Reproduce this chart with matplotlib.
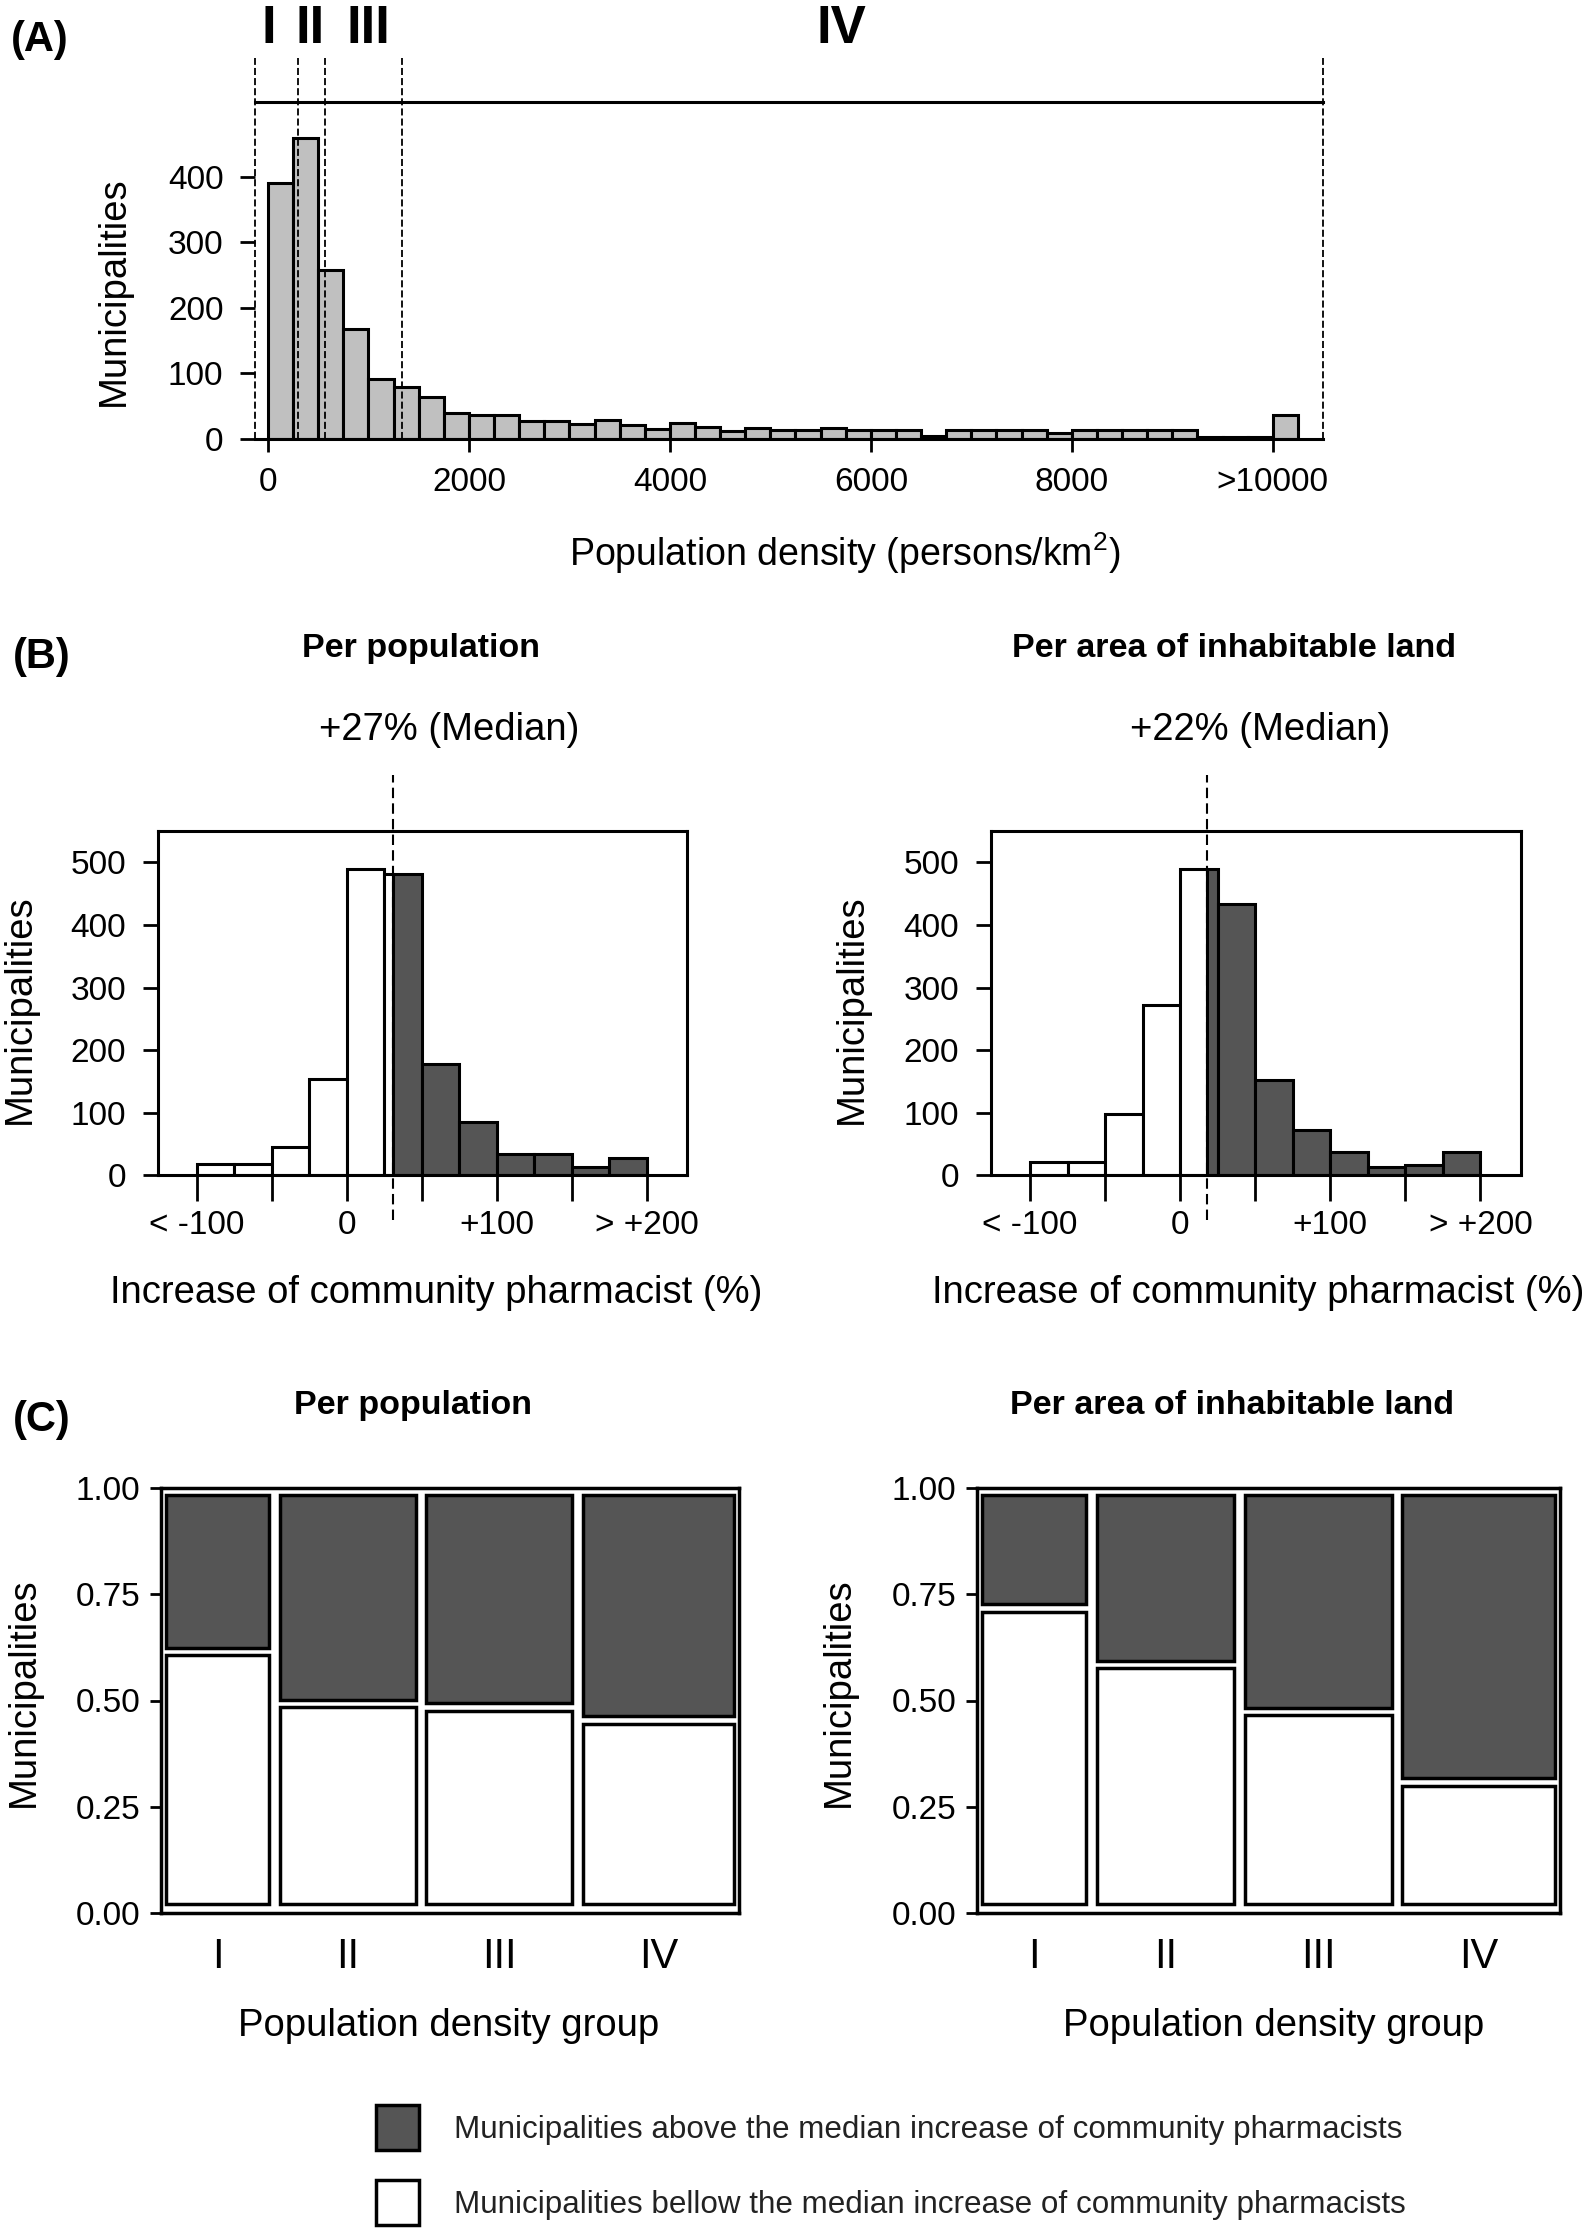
import numpy as np
import matplotlib.pyplot as plt
from matplotlib.patches import Rectangle

plt.rcParams['font.family'] = ['Liberation Sans', 'DejaVu Sans']
plt.rcParams['mathtext.fontset'] = 'custom'
plt.rcParams['mathtext.rm'] = 'Liberation Sans'
plt.rcParams['mathtext.it'] = 'Liberation Sans:italic'
plt.rcParams['mathtext.bf'] = 'Liberation Sans:bold'

W, H = 1593, 2228
GREY = '#c0c0c0'
DARK = '#555555'

# ---- (A) population density histogram ----
density_bin_left = list(range(0, 10000, 250)) + [10000]
density_counts = [390, 459, 258, 167, 92, 79, 64, 40, 36, 37,
                  28, 28, 23, 29, 22, 16, 24, 18, 12, 17,
                  14, 14, 17, 14, 14, 14, 4, 14, 14, 14,
                  14, 9, 14, 14, 14, 14, 14, 3, 3, 3,
                  36]
density_ticks = [0, 2000, 4000, 6000, 8000, 10000]
density_ticklabels = ['0', '2000', '4000', '6000', '8000', '>10000']
group_bounds = [-125, 300, 570, 1330, 10500]
group_names = ['I', 'II', 'III', 'IV']
group_name_x = [10, 420, 1000, 5710]

# ---- (B) increase of community pharmacists ----
incr_bin_left = [-100, -75, -50, -25, 0, 25, 50, 75, 100, 125, 150, 175]
incr_counts_pop = [18, 18, 46, 154, 489, 482, 178, 85, 34, 34, 13, 28]
incr_counts_land = [21, 21, 98, 272, 490, 434, 152, 73, 38, 13, 17, 38]
median_line_pop = 31
median_line_land = 18
median_label_pop = '+27% (Median)'
median_label_land = '+22% (Median)'
incr_ticks = [-100, -50, 0, 50, 100, 150, 200]
incr_ticklabels = ['< -100', '', '0', '', '+100', '', '> +200']

# ---- (C) share below / above the median, by density group ----
group_sizes = [334, 442, 473, 491]
below_share_pop = [0.619, 0.489, 0.481, 0.448]
below_share_land = [0.727, 0.587, 0.469, 0.294]


def px_axes(left, top, right, bottom):
    return fig.add_axes([left / W, 1 - bottom / H, (right - left) / W, (bottom - top) / H])


fig = plt.figure(figsize=(W / 100, H / 100), dpi=100)

# ================= (A) =================
ax = px_axes(255.4, 101.7, 1323, 439)
ax.bar(density_bin_left, density_counts, width=250, align='edge',
       color=GREY, edgecolor='black', linewidth=2.2)
ax.set_xlim(-125, 10500)
ax.set_ylim(0, 514)
for s in ['left', 'right']:
    ax.spines[s].set_visible(False)
for s in ['top', 'bottom']:
    ax.spines[s].set_linewidth(2.2)
ax.vlines(group_bounds, 0, 581, colors='black', linestyles=(0, (3.9, 1.7)),
          linewidth=1.3, clip_on=False)
for name, gx in zip(group_names, group_name_x):
    ax.text(gx, 604, name, ha='center', va='baseline', fontsize=38,
            fontweight='bold', clip_on=False)
ax.set_yticks([0, 100, 200, 300, 400])
ax.set_xticks(density_ticks)
ax.set_xticklabels(density_ticklabels)
ax.tick_params(axis='y', length=11, width=2, pad=12, labelsize=24)
ax.tick_params(axis='x', length=9, width=2, pad=11, labelsize=24)
ax.set_xlabel('Population density (persons/km$^{2}$)', fontsize=27)
ax.xaxis.set_label_coords(0.552, -0.338)
ax.xaxis.label.set_va('center')
ax.set_ylabel('Municipalities', fontsize=27.5)
ax.yaxis.set_label_coords(-0.1324, 0.439)
ax.yaxis.label.set_va('center')
fig.text(40 / W, 1 - 40 / H, '(A)', fontsize=30, fontweight='bold',
         ha='center', va='center')


# ================= (B) =================
def increase_hist(ax, counts, median_x, median_label, title, title_x, xlab_x):
    for left, h in zip(incr_bin_left, counts):
        right = left + 25
        if right <= median_x:
            ax.bar(left, h, width=25, align='edge', color='white',
                   edgecolor='black', linewidth=2.2)
        elif left >= median_x:
            ax.bar(left, h, width=25, align='edge', color=DARK,
                   edgecolor='black', linewidth=2.2)
        else:
            ax.bar(left, h, width=median_x - left, align='edge', color='white',
                   edgecolor='black', linewidth=2.2)
            ax.bar(median_x, h, width=right - median_x, align='edge', color=DARK,
                   edgecolor='black', linewidth=2.2)
    ax.set_xlim(-126, 227)
    ax.set_ylim(0, 551)
    for s in ax.spines.values():
        s.set_linewidth(2.2)
    ax.vlines(median_x, -71, 639, colors='black', linestyles=(0, (5, 2.5)),
              linewidth=1.5, clip_on=False, zorder=5)
    ax.text(median_x + 37 if median_x > 25 else median_x + 35, 711, median_label,
            ha='center', va='center', fontsize=27.5, clip_on=False)
    ax.set_yticks([0, 100, 200, 300, 400, 500])
    ax.set_xticks(incr_ticks)
    ax.set_xticklabels(incr_ticklabels)
    ax.tick_params(axis='y', length=11, width=2, pad=12, labelsize=24)
    ax.tick_params(axis='x', length=19, width=2, pad=6, labelsize=24)
    ax.set_xlabel('Increase of community pharmacist (%)', fontsize=27.5)
    ax.xaxis.set_label_coords(xlab_x, -0.341)
    ax.xaxis.label.set_va('center')
    ax.set_ylabel('Municipalities', fontsize=27.5)
    ax.yaxis.set_label_coords(-0.262, 0.482)
    ax.yaxis.label.set_va('center')
    ax.text(title_x, 1.529, title, transform=ax.transAxes, ha='center',
            va='center', fontsize=24.5, fontweight='bold')


axb1 = px_axes(158, 830.5, 687, 1175.3)
increase_hist(axb1, incr_counts_pop, median_line_pop, median_label_pop,
              'Per population', 0.497, 0.5255)
axb2 = px_axes(991, 830.5, 1521, 1175.3)
increase_hist(axb2, incr_counts_land, median_line_land, median_label_land,
              'Per area of inhabitable land', 0.4585, 0.504)
fig.text(42 / W, 1 - 657 / H, '(B)', fontsize=30, fontweight='bold',
         ha='center', va='center')


# ================= (C) =================
def mosaic(ax, sizes, below, title, title_x, xlab_x):
    pad_x, gap_x = 0.0087, 0.0183
    pad_top, pad_bot, gap_y = 0.0153, 0.021, 0.0176
    usable_x = 1 - 2 * pad_x - gap_x * (len(sizes) - 1)
    widths = usable_x * np.array(sizes) / np.sum(sizes)
    usable_y = 1 - pad_top - pad_bot - gap_y
    x = pad_x
    centers = []
    for w, p in zip(widths, below):
        hw = usable_y * p
        ax.add_patch(Rectangle((x, pad_bot), w, hw, facecolor='white',
                               edgecolor='black', linewidth=2.5))
        ax.add_patch(Rectangle((x, pad_bot + hw + gap_y), w, usable_y - hw,
                               facecolor=DARK, edgecolor='black', linewidth=2.5))
        centers.append(x + w / 2)
        x += w + gap_x
    ax.set_xlim(0, 1)
    ax.set_ylim(0, 1)
    for s in ax.spines.values():
        s.set_linewidth(2.5)
    ax.set_yticks([0, 0.25, 0.5, 0.75, 1.0])
    ax.set_yticklabels(['0.00', '0.25', '0.50', '0.75', '1.00'])
    ax.set_xticks(centers)
    ax.set_xticklabels(group_names)
    ax.tick_params(axis='y', length=8, width=2, pad=7, labelsize=24)
    ax.tick_params(axis='x', length=0, pad=17, labelsize=30)
    ax.set_xlabel('Population density group', fontsize=27.5)
    ax.xaxis.set_label_coords(xlab_x, -0.265)
    ax.xaxis.label.set_va('center')
    ax.set_ylabel('Municipalities', fontsize=27.5)
    ax.yaxis.set_label_coords(-0.237, 0.52)
    ax.yaxis.label.set_va('center')
    ax.text(title_x, 1.194, title, transform=ax.transAxes, ha='center',
            va='center', fontsize=24.5, fontweight='bold')


axc1 = px_axes(161, 1488, 739, 1913)
mosaic(axc1, group_sizes, below_share_pop, 'Per population', 0.436, 0.498)
axc2 = px_axes(977, 1488, 1560, 1913)
mosaic(axc2, group_sizes, below_share_land, 'Per area of inhabitable land', 0.438, 0.508)
fig.text(42 / W, 1 - 1420 / H, '(C)', fontsize=30, fontweight='bold',
         ha='center', va='center')

# ---- legend ----
legend_items = [(DARK, 'Municipalities above the median increase of community pharmacists'),
                ('white', 'Municipalities bellow the median increase of community pharmacists')]
for i, (fc, txt) in enumerate(legend_items):
    top = 2105 + i * 75
    fig.patches.append(Rectangle((376 / W, 1 - (top + 45) / H), 43 / W, 45 / H,
                                 facecolor=fc, edgecolor='black', linewidth=2.5,
                                 transform=fig.transFigure, figure=fig))
    fig.text(454 / W, 1 - (top + 25) / H, txt, fontsize=22.6, color='#222222',
             ha='left', va='center')

fig.savefig('out.png', dpi=100)
